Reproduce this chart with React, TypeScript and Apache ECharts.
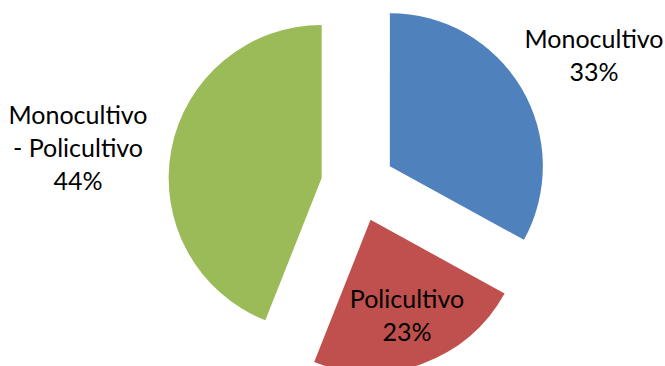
import React, { useEffect, useRef } from "react";
import * as echarts from "echarts";

const categories = ["Monocultivo", "Policultivo", "Monocultivo\n- Policultivo"];
const values = [33, 23, 44];
const colors = ["#4F81BD", "#C0504D", "#9BBB59"];

export default function App() {
  const ref = useRef<HTMLDivElement>(null);
  useEffect(() => {
    const chart = echarts.init(ref.current!, null, { renderer: "svg" });
    const labelPos = [
      { x: 594, y: 54 },
      { x: 407, y: 314 },
      { x: 78, y: 147 },
    ];
    chart.setOption({
      animation: false,
      graphic: categories.map((name, i) => ({
        type: "text",
        x: labelPos[i].x,
        y: labelPos[i].y,
        z: 100,
        style: {
          text: `${name}\n${values[i]}%`,
          fontFamily: "Lato, sans-serif",
          fontSize: 25,
          lineHeight: 33,
          fill: "#000",
          align: "center",
          verticalAlign: "middle",
        },
      })),
      series: [
        {
          type: "pie",
          center: [358, 185],
          radius: 153,
          startAngle: 90,
          clockwise: true,
          selectedMode: "multiple",
          selectedOffset: 37,
          silent: true,
          data: categories.map((name, i) => ({
            name,
            value: values[i],
            selected: true,
            itemStyle: { color: colors[i] },
          })),
          label: { show: false },
          labelLine: { show: false },
        },
      ],
    });
    return () => chart.dispose();
  }, []);
  return <div ref={ref} style={{ width: 665, height: 366, position: "absolute", left: 0, top: 0 }} />;
}
